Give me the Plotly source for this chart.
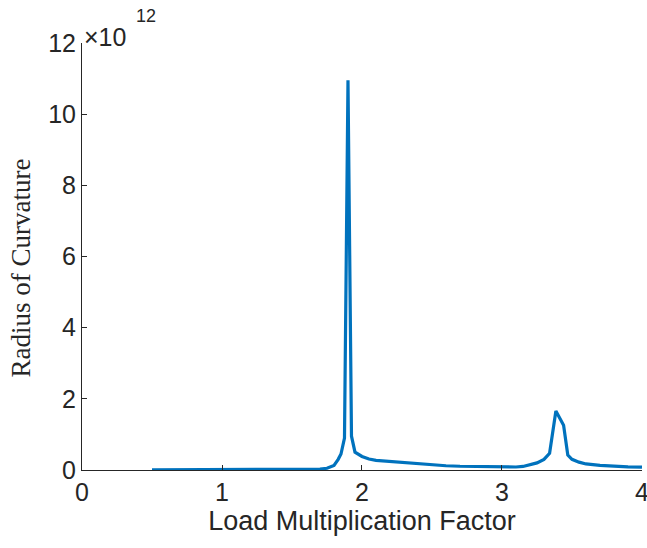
import plotly.graph_objects as go

x_vals = [0.5, 0.75, 1.0, 1.25, 1.5, 1.6, 1.7, 1.75, 1.8, 1.83, 1.85, 1.875, 1.9, 1.925,
          1.95, 2.0, 2.05, 2.1, 2.2, 2.3, 2.4, 2.5, 2.6, 2.7, 2.8, 2.9, 3.0, 3.1, 3.15,
          3.2, 3.25, 3.3, 3.34, 3.385, 3.44, 3.47, 3.5, 3.55, 3.6, 3.7, 3.8, 3.9, 4.0]
y_vals = [0.003, 0.004, 0.005, 0.007, 0.01, 0.014, 0.025, 0.05, 0.13, 0.3, 0.45, 0.9, 10.95, 0.95,
          0.5, 0.38, 0.31, 0.27, 0.24, 0.21, 0.17, 0.14, 0.12, 0.105, 0.095, 0.085, 0.08, 0.085, 0.1,
          0.14, 0.2, 0.3, 0.47, 1.66, 1.26, 0.42, 0.3, 0.22, 0.17, 0.13, 0.1, 0.09, 0.08]
scale = 1e12
y_ticks = [0, 2, 4, 6, 8, 10, 12]
x_ticks = [0, 1, 2, 3, 4]

fig = go.Figure()
fig.add_trace(go.Scatter(x=x_vals, y=[v * scale for v in y_vals], mode="lines",
                         line=dict(color="#0072BD", width=3.2), showlegend=False))

axis_col = "#262626"
fig.update_layout(
    width=647, height=548,
    margin=dict(l=82, r=5, t=43, b=78),
    paper_bgcolor="white", plot_bgcolor="white",
    font=dict(family="Liberation Sans, Arial, sans-serif", size=20, color=axis_col),
    xaxis=dict(range=[0, 4.0001], tickvals=x_ticks, ticktext=[str(t) for t in x_ticks],
               showgrid=False, zeroline=False, showline=True, linecolor=axis_col, linewidth=1,
               ticks="inside", ticklen=5, tickcolor=axis_col, tickfont=dict(size=25),
               ticklabeloverflow="allow", automargin=False,
               title=dict(text="Load Multiplication Factor", font=dict(size=27), standoff=4)),
    yaxis=dict(range=[0, 12 * scale], tickvals=[t * scale for t in y_ticks],
               ticktext=[str(t) for t in y_ticks], automargin=False,
               showgrid=False, zeroline=False, showline=True, linecolor=axis_col, linewidth=1,
               ticks="inside", ticklen=5, tickcolor=axis_col, tickfont=dict(size=25)),
)
fig.add_annotation(xref="paper", yref="paper", x=0.0, y=0.5, xanchor="center", yanchor="middle",
                   text="Radius of Curvature", textangle=-90, showarrow=False,
                   font=dict(family="Liberation Serif, serif", size=27, color=axis_col),
                   xshift=-62, yshift=-12)
fig.add_annotation(xref="paper", yref="paper", x=0.0, y=1.0, xanchor="left", yanchor="bottom",
                   text="×10", showarrow=False, font=dict(size=25, color=axis_col),
                   xshift=0, yshift=-10)
fig.add_annotation(xref="paper", yref="paper", x=0.0, y=1.0, xanchor="left", yanchor="bottom",
                   text="12", showarrow=False, font=dict(size=18, color=axis_col),
                   xshift=52, yshift=15)
fig.write_html("out.html")
